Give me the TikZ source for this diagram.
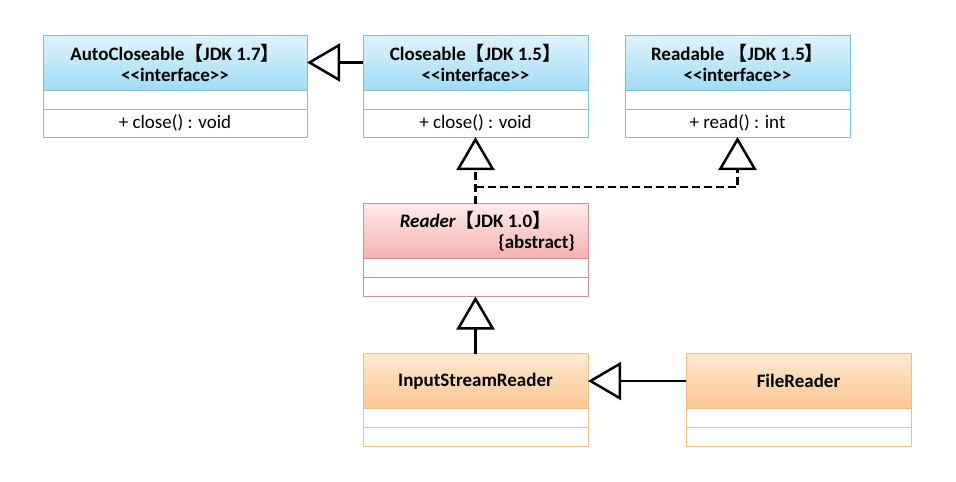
\documentclass[tikz,border=0pt]{standalone}
\usepackage{fontspec}
\setmainfont{Carlito}
\newfontfamily\cjk{Noto Sans CJK SC}
\usetikzlibrary{arrows.meta,positioning}
\definecolor{blueline}{RGB}{120,192,226}
\definecolor{bluetop}{RGB}{224,244,252}
\definecolor{bluebot}{RGB}{160,220,245}
\definecolor{pinkline}{RGB}{218,140,140}
\definecolor{pinktop}{RGB}{255,236,236}
\definecolor{pinkbot}{RGB}{246,176,176}
\definecolor{orangeline}{RGB}{244,188,128}
\definecolor{orangetop}{RGB}{254,234,208}
\definecolor{orangebot}{RGB}{252,198,146}
\newcommand{\jdk}[1]{{\cjk【}JDK #1{\cjk】}}
\tikzset{
  head/.style={draw=#1line, top color=#1top, bottom color=#1bot, line width=0.8pt,
    minimum width=225pt, minimum height=55pt, inner sep=0pt, outer sep=0pt,
    align=center, font=\fontsize{19}{21}\selectfont\bfseries},
  cell/.style={draw=#1line, fill=white, line width=0.8pt, minimum width=225pt,
    minimum height=19pt, inner sep=0pt, outer sep=0pt, font=\fontsize{19}{21}\selectfont},
  gen/.style={-{Triangle[open,length=33pt,width=38pt]}, line width=2.5pt, black},
  real/.style={gen, dash pattern=on 8pt off 4pt},
}

\begin{document}
\begin{tikzpicture}[line join=round,x=1pt,y=-1pt]
    \useasboundingbox (0,0) rectangle (956,482);
    % interfaces
    \node[head=blue, minimum width=264pt] (AC) at (175,62.5) {AutoCloseable\jdk{1.7}\\<{}<interface>{}>};
    \node[cell=blue, minimum width=264pt, below=0pt of AC] (ACa) {};
    \node[cell=blue, minimum width=264pt, minimum height=28pt, below=0pt of ACa] (ACb) {+ close() : void};

    \node[head=blue] (CL) at (475.5,62.5) {Closeable\jdk{1.5}\\<{}<interface>{}>};
    \node[cell=blue, below=0pt of CL] (CLa) {};
    \node[cell=blue, minimum height=28pt, below=0pt of CLa] (CLb) {+ close() : void};

    \node[head=blue] (RD) at (737.5,62.5) {Readable \jdk{1.5}\\<{}<interface>{}>};
    \node[cell=blue, below=0pt of RD] (RDa) {};
    \node[cell=blue, minimum height=28pt, below=0pt of RDa] (RDb) {+ read() : int};

    % classes
    \node[head=pink] (RE) at (475.5,231) {\textit{Reader}\jdk{1.0}\\\makebox[199pt][r]{\{abstract\}}};
    \node[cell=pink, below=0pt of RE] (REa) {};
    \node[cell=pink, below=0pt of REa] (REb) {};

    \node[head=orange] (ISR) at (475.5,381) {InputStreamReader};
    \node[cell=orange, below=0pt of ISR] (ISRa) {};
    \node[cell=orange, below=0pt of ISRa] (ISRb) {};

    \node[head=orange] (FR) at (798.5,381) {FileReader};
    \node[cell=orange, below=0pt of FR] (FRa) {};
    \node[cell=orange, below=0pt of FRa] (FRb) {};

    % Edges
    \foreach \source/\target in {CL.west/AC.east, ISR.north/REb.south, FR.west/ISR.east} {
            \draw[gen] (\source) -- (\target);
        }
    \coordinate (J) at (475.5,187);
    \draw[real] (RE.north) -- (CLb.south);
    \draw[real] (J) -| (RDb.south);
\end{tikzpicture}
\end{document}
